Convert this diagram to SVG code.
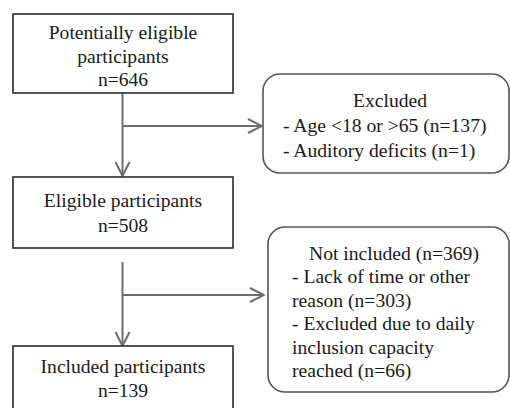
<svg xmlns="http://www.w3.org/2000/svg" width="510" height="408" viewBox="0 0 510 408">
<style>
.box{fill:#fff;stroke:#2b2b2b;stroke-width:1.6}
.rbox{fill:#fff;stroke:#555;stroke-width:1.6}
.ln{fill:none;stroke:#6e6e6e;stroke-width:2}
</style>
<defs>
<marker id="ah" markerUnits="userSpaceOnUse" viewBox="0 0 16 16" refX="15" refY="8" markerWidth="16" markerHeight="16" orient="auto">
<path d="M1,1 L15,8 L1,15" fill="none" stroke="#6e6e6e" stroke-width="2"/>
</marker>
</defs>
<rect width="510" height="408" fill="#fff"/>
<g id="connectors">
<line class="ln" x1="122.5" y1="93" x2="122.5" y2="176" marker-end="url(#ah)"/>
<line class="ln" x1="122.5" y1="126" x2="262" y2="126" marker-end="url(#ah)"/>
<line class="ln" x1="122.5" y1="262" x2="122.5" y2="346" marker-end="url(#ah)"/>
<line class="ln" x1="122.5" y1="295" x2="264" y2="295" marker-end="url(#ah)"/>
</g>
<g font-family="Liberation Serif" font-size="19.6" fill="#1a1a1a">
<g id="potentially-eligible">
<rect class="box" x="13" y="14" width="220" height="79"/>
<text text-anchor="middle" x="123" y="39">Potentially eligible</text>
<text text-anchor="middle" x="123" y="62.5">participants</text>
<text text-anchor="middle" x="123" y="86">n=646</text>
</g>
<g id="excluded">
<rect class="rbox" x="263" y="74" width="246" height="99" rx="17" ry="17"/>
<text text-anchor="middle" x="390" y="107">Excluded</text>
<text x="283" y="131.5">- Age &lt;18 or &gt;65 (n=137)</text>
<text x="283" y="157">- Auditory deficits (n=1)</text>
</g>
<g id="eligible">
<rect class="box" x="13" y="177" width="220" height="71"/>
<text text-anchor="middle" x="123" y="207">Eligible participants</text>
<text text-anchor="middle" x="123" y="232">n=508</text>
</g>
<g id="not-included">
<rect class="rbox" x="268" y="227" width="241" height="165" rx="17" ry="17"/>
<text x="309" y="260">Not included (n=369)</text>
<text x="292" y="283">- Lack of time or other</text>
<text x="292" y="307">reason (n=303)</text>
<text x="292" y="330">- Excluded due to daily</text>
<text x="292" y="353.5">inclusion capacity</text>
<text x="292" y="377">reached (n=66)</text>
</g>
<g id="included">
<rect class="box" x="13" y="346" width="220" height="70"/>
<text text-anchor="middle" x="123" y="373">Included participants</text>
<text text-anchor="middle" x="123" y="397">n=139</text>
</g>
</g>
</svg>
